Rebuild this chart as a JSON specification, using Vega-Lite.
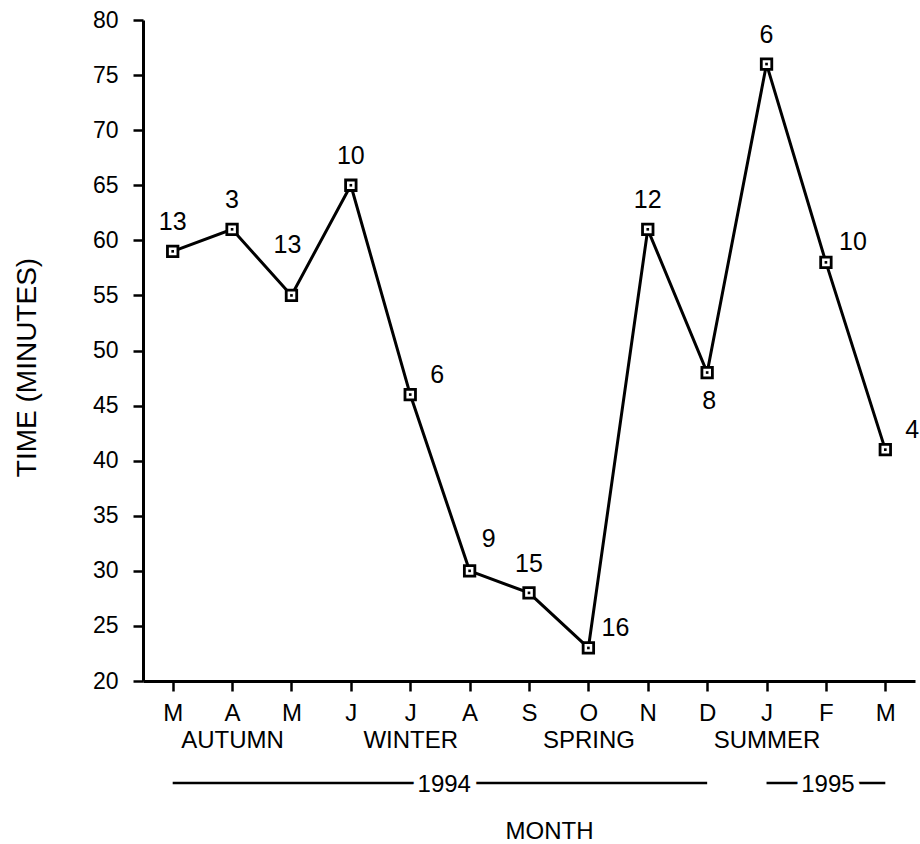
{
  "$schema": "https://vega.github.io/schema/vega-lite/v6.json",
  "width": 772,
  "height": 661,
  "autosize": "none",
  "padding": {"left": 143, "top": 20, "right": 5, "bottom": 163},
  "background": "white",
  "config": {
    "view": {"stroke": null},
    "font": "Liberation Sans",
    "axis": {
      "domainColor": "black", "domainWidth": 3,
      "tickColor": "black", "tickWidth": 2.5, "tickSize": 10,
      "labelColor": "black", "labelFont": "Liberation Sans", "labelFontSize": 23,
      "titleColor": "black", "titleFont": "Liberation Sans", "titleFontWeight": "normal",
      "grid": false
    },
    "text": {"font": "Liberation Sans", "color": "black"}
  },
  "datasets": {
    "times": [
      {"month": "1994-03", "minutes": 59, "count": 13, "place": "above"},
      {"month": "1994-04", "minutes": 61, "count": 3, "place": "above"},
      {"month": "1994-05", "minutes": 55, "count": 13, "place": "high"},
      {"month": "1994-06", "minutes": 65, "count": 10, "place": "above"},
      {"month": "1994-07", "minutes": 46, "count": 6, "place": "right"},
      {"month": "1994-08", "minutes": 30, "count": 9, "place": "upright"},
      {"month": "1994-09", "minutes": 28, "count": 15, "place": "above"},
      {"month": "1994-10", "minutes": 23, "count": 16, "place": "right"},
      {"month": "1994-11", "minutes": 61, "count": 12, "place": "above"},
      {"month": "1994-12", "minutes": 48, "count": 8, "place": "below"},
      {"month": "1995-01", "minutes": 76, "count": 6, "place": "above"},
      {"month": "1995-02", "minutes": 58, "count": 10, "place": "right"},
      {"month": "1995-03", "minutes": 41, "count": 4, "place": "right"}
    ],
    "years": [
      {"year": "1994", "from": "1994-03", "to": "1994-12", "at": "1994-07"},
      {"year": "1995", "from": "1995-01", "to": "1995-03", "at": "1995-02"}
    ]
  },
  "layer": [
    {
      "data": {"name": "times"},
      "mark": {"type": "line", "color": "black", "strokeWidth": 3},
      "encoding": {
        "x": {
          "field": "month", "type": "ordinal",
          "scale": {"type": "point", "padding": 0.5},
          "axis": {
            "title": "MONTH", "titleFontSize": 24,
            "titleX": 406, "titleY": 150, "titleBaseline": "middle", "titleAlign": "center",
            "labelAngle": 0, "labelFontSize": 24, "labelPadding": 10, "labelLineHeight": 27,
            "labelOverlap": false, "labelFlush": false,
            "labelExpr": "datum.value == '1994-04' ? ['A','AUTUMN'] : datum.value == '1994-07' ? ['J','WINTER'] : datum.value == '1994-10' ? ['O','SPRING'] : datum.value == '1995-01' ? ['J','SUMMER'] : ['J','F','M','A','M','J','J','A','S','O','N','D'][toNumber(slice(datum.value,5))-1]"
          }
        },
        "y": {
          "field": "minutes", "type": "quantitative",
          "scale": {"domain": [20, 80], "nice": false, "zero": false},
          "axis": {
            "title": "TIME (MINUTES)", "titleFontSize": 28,
            "titleX": -116, "titleY": 347, "titleBaseline": "middle", "titleAlign": "center", "titleAngle": -90,
            "values": [20, 25, 30, 35, 40, 45, 50, 55, 60, 65, 70, 75, 80],
            "labelPadding": 15
          }
        }
      }
    },
    {
      "data": {"name": "times"},
      "mark": {"type": "point", "shape": "square", "filled": false, "fill": "white", "stroke": "black", "strokeWidth": 2.8, "size": 110, "opacity": 1},
      "encoding": {
        "x": {"field": "month", "type": "ordinal"},
        "y": {"field": "minutes", "type": "quantitative"}
      }
    },
    {
      "data": {"name": "times"},
      "mark": {"type": "point", "shape": "square", "filled": true, "color": "black", "size": 7, "opacity": 1},
      "encoding": {
        "x": {"field": "month", "type": "ordinal"},
        "y": {"field": "minutes", "type": "quantitative"}
      }
    },
    {
      "data": {"name": "times"},
      "transform": [{"filter": "datum.place == 'above'"}],
      "mark": {"type": "text", "fontSize": 25, "align": "center", "baseline": "middle", "dy": -29},
      "encoding": {
        "x": {"field": "month", "type": "ordinal"},
        "y": {"field": "minutes", "type": "quantitative"},
        "text": {"field": "count"}
      }
    },
    {
      "data": {"name": "times"},
      "transform": [{"filter": "datum.place == 'high'"}],
      "mark": {"type": "text", "fontSize": 25, "align": "center", "baseline": "middle", "dx": -4, "dy": -50},
      "encoding": {
        "x": {"field": "month", "type": "ordinal"},
        "y": {"field": "minutes", "type": "quantitative"},
        "text": {"field": "count"}
      }
    },
    {
      "data": {"name": "times"},
      "transform": [{"filter": "datum.place == 'upright'"}],
      "mark": {"type": "text", "fontSize": 25, "align": "center", "baseline": "middle", "dx": 19, "dy": -32},
      "encoding": {
        "x": {"field": "month", "type": "ordinal"},
        "y": {"field": "minutes", "type": "quantitative"},
        "text": {"field": "count"}
      }
    },
    {
      "data": {"name": "times"},
      "transform": [{"filter": "datum.place == 'right'"}],
      "mark": {"type": "text", "fontSize": 25, "align": "center", "baseline": "middle", "dx": 27, "dy": -20},
      "encoding": {
        "x": {"field": "month", "type": "ordinal"},
        "y": {"field": "minutes", "type": "quantitative"},
        "text": {"field": "count"}
      }
    },
    {
      "data": {"name": "times"},
      "transform": [{"filter": "datum.place == 'below'"}],
      "mark": {"type": "text", "fontSize": 25, "align": "center", "baseline": "middle", "dx": 2, "dy": 28},
      "encoding": {
        "x": {"field": "month", "type": "ordinal"},
        "y": {"field": "minutes", "type": "quantitative"},
        "text": {"field": "count"}
      }
    },
    {
      "data": {"name": "years"},
      "mark": {"type": "rule", "color": "black", "strokeWidth": 2.5},
      "encoding": {
        "x": {"field": "from", "type": "ordinal"},
        "x2": {"field": "to"},
        "y": {"datum": 10.74, "type": "quantitative"}
      }
    },
    {
      "data": {"name": "years"},
      "transform": [{"filter": "datum.year == '1994'"}],
      "mark": {"type": "text", "fontSize": 24, "align": "center", "baseline": "middle", "dx": 34, "stroke": "white", "strokeWidth": 12, "fill": "white"},
      "encoding": {
        "x": {"field": "at", "type": "ordinal"},
        "y": {"datum": 10.6, "type": "quantitative"},
        "text": {"field": "year"}
      }
    },
    {
      "data": {"name": "years"},
      "transform": [{"filter": "datum.year == '1994'"}],
      "mark": {"type": "text", "fontSize": 24, "align": "center", "baseline": "middle", "dx": 34},
      "encoding": {
        "x": {"field": "at", "type": "ordinal"},
        "y": {"datum": 10.6, "type": "quantitative"},
        "text": {"field": "year"}
      }
    },
    {
      "data": {"name": "years"},
      "transform": [{"filter": "datum.year == '1995'"}],
      "mark": {"type": "text", "fontSize": 24, "align": "center", "baseline": "middle", "dx": 2, "stroke": "white", "strokeWidth": 12, "fill": "white"},
      "encoding": {
        "x": {"field": "at", "type": "ordinal"},
        "y": {"datum": 10.6, "type": "quantitative"},
        "text": {"field": "year"}
      }
    },
    {
      "data": {"name": "years"},
      "transform": [{"filter": "datum.year == '1995'"}],
      "mark": {"type": "text", "fontSize": 24, "align": "center", "baseline": "middle", "dx": 2},
      "encoding": {
        "x": {"field": "at", "type": "ordinal"},
        "y": {"datum": 10.6, "type": "quantitative"},
        "text": {"field": "year"}
      }
    }
  ]
}
